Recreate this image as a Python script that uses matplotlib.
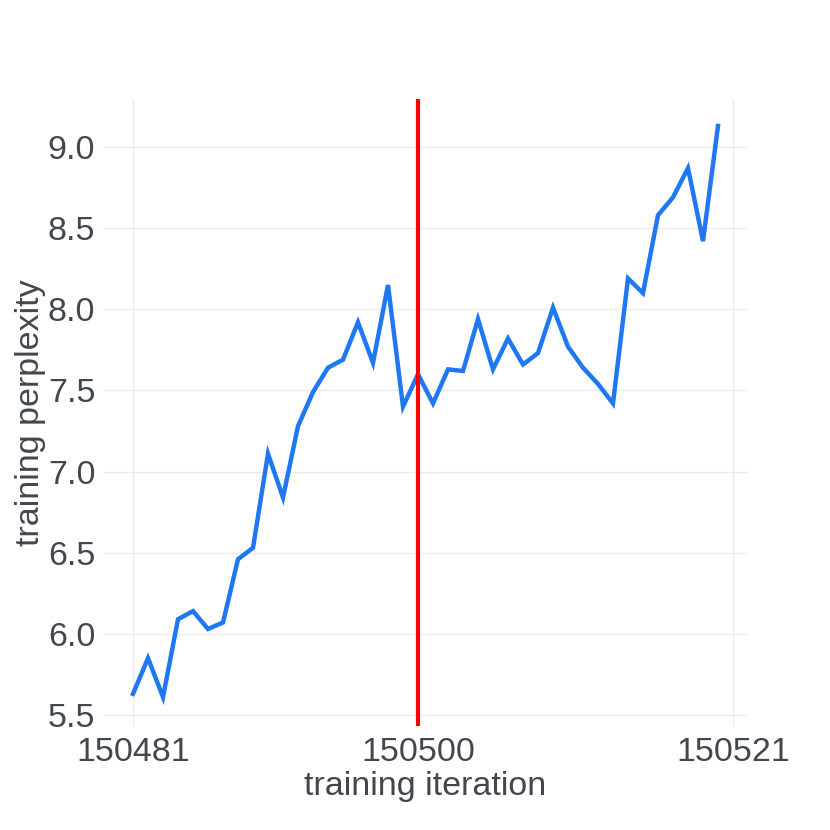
import matplotlib
matplotlib.use("Agg")
import matplotlib.pyplot as plt

iterations = list(range(150481, 150521))
perplexity = [5.63, 5.85, 5.61, 6.09, 6.14, 6.03, 6.07, 6.46, 6.53, 7.11,
              6.84, 7.28, 7.49, 7.64, 7.69, 7.92, 7.67, 8.15, 7.40, 7.60,
              7.42, 7.63, 7.62, 7.94, 7.63, 7.82, 7.66, 7.73, 8.01, 7.77,
              7.64, 7.54, 7.42, 8.19, 8.10, 8.58, 8.69, 8.87, 8.42, 9.13]
marker_iter = 150500
x_ticks = [150481, 150500, 150521]
y_ticks = [5.5, 6.0, 6.5, 7.0, 7.5, 8.0, 8.5, 9.0]

plt.rcParams['font.family'] = ['Liberation Sans', 'DejaVu Sans']
text_color = '#42474f'

fig = plt.figure(figsize=(8.3, 8.3), dpi=100)
ax = fig.add_axes([0.1241, 0.1253, 0.9012 - 0.1241, 0.8807 - 0.1253])

ax.plot(iterations, perplexity, color='#1f78f2', linewidth=3.2, solid_joinstyle='miter', zorder=3)
ax.axvline(marker_iter, color='#ff0000', linewidth=3.0, zorder=4)

ax.set_xlim(150479, 150522)
ax.set_ylim(5.432, 9.296)
ax.set_xticks(x_ticks)
ax.set_xticklabels([str(t) for t in x_ticks])
ax.set_yticks(y_ticks)
ax.set_yticklabels([f"{t:.1f}" for t in y_ticks])

ax.grid(True, color='#ebebeb', linewidth=1.0, zorder=0)
ax.set_axisbelow(True)
for s in ax.spines.values():
    s.set_visible(False)
ax.tick_params(axis='both', length=0, labelsize=24.5, labelcolor=text_color)
ax.tick_params(axis='x', pad=8)
ax.tick_params(axis='y', pad=5.5)

ax.set_xlabel('training iteration', fontsize=24.5, color=text_color, labelpad=2)
ax.set_ylabel('training perplexity', fontsize=24.5, color=text_color, labelpad=1)

fig.savefig('out.png', dpi=100, facecolor='white')
